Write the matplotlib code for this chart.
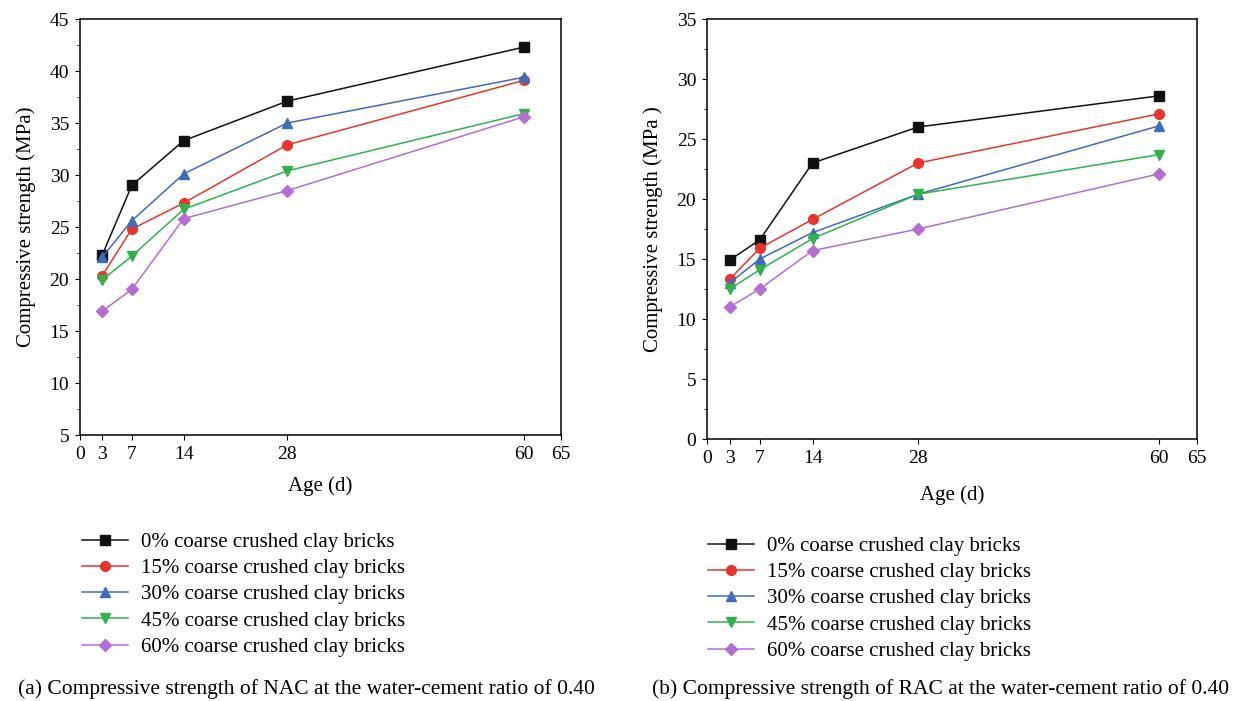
import matplotlib
matplotlib.use("Agg")
import matplotlib.pyplot as plt
from matplotlib.ticker import MultipleLocator

plt.rcParams['font.family'] = ['Liberation Serif', 'DejaVu Serif']

age = [3, 7, 14, 28, 60]
labels = ['0% coarse crushed clay bricks', '15% coarse crushed clay bricks',
          '30% coarse crushed clay bricks', '45% coarse crushed clay bricks',
          '60% coarse crushed clay bricks']

# NAC, w/c 0.40
nac_0 = [22.3, 29.0, 33.3, 37.1, 42.3]
nac_15 = [20.3, 24.8, 27.3, 32.9, 39.1]
nac_30 = [22.1, 25.6, 30.1, 35.0, 39.4]
nac_45 = [19.9, 22.2, 26.7, 30.4, 35.9]
nac_60 = [16.9, 19.0, 25.8, 28.5, 35.6]

# RAC, w/c 0.40
rac_0 = [14.9, 16.6, 23.0, 26.0, 28.6]
rac_15 = [13.3, 15.9, 18.3, 23.0, 27.1]
rac_30 = [13.0, 15.0, 17.2, 20.4, 26.1]
rac_45 = [12.5, 14.1, 16.7, 20.4, 23.7]
rac_60 = [11.0, 12.5, 15.7, 17.5, 22.1]

colors = ['#111111', '#e8352c', '#3f6bbd', '#2fb24b', '#b46ed3']
markers = ['s', 'o', '^', 'v', 'D']
msizes = [6.5, 7, 7, 7, 6]

W, H = 1254, 701
fig = plt.figure(figsize=(W / 100, H / 100), dpi=100)
ax1 = fig.add_axes([80 / W, 1 - 435 / H, 481 / W, 416 / H])
ax2 = fig.add_axes([707 / W, 1 - 439 / H, 490 / W, 420 / H])


def draw(ax, series, ylim, ylabel, xlab_pad):
    handles = []
    for s, c, m, ms, lab in zip(series, colors, markers, msizes, labels):
        h, = ax.plot(age, s, color=c, marker=m, markersize=ms, lw=1.1, label=lab)
        handles.append(h)
    ax.set_xlim(0, 65)
    ax.set_xticks([0, 3, 7, 14, 28, 60, 65])
    ax.set_ylim(*ylim)
    ax.yaxis.set_major_locator(MultipleLocator(5))
    ax.yaxis.set_minor_locator(MultipleLocator(2.5))
    ax.tick_params(which='both', direction='out', top=False, right=False, labelsize=14)
    ax.tick_params(which='major', length=3.8, pad=4)
    ax.tick_params(which='minor', length=2.5)
    ax.set_xlabel('Age (d)', fontsize=15, labelpad=xlab_pad)
    ax.set_ylabel(ylabel, fontsize=15, labelpad=10)
    for sp in ax.spines.values():
        sp.set_linewidth(1.1)
    return handles


h1 = draw(ax1, [nac_0, nac_15, nac_30, nac_45, nac_60], (5, 45),
          'Compressive strength (MPa)', 10)
h2 = draw(ax2, [rac_0, rac_15, rac_30, rac_45, rac_60], (0, 35),
          'Compressive strength (MPa )', 13)

leg_kw = dict(loc='upper left', bbox_transform=fig.transFigure, frameon=False, fontsize=15,
              handlelength=2.2, handletextpad=0.6, labelspacing=0.32, borderaxespad=0)
ax1.legend(handles=h1, bbox_to_anchor=(74 / W, 1 - 524 / H), **leg_kw)
ax2.legend(handles=h2, bbox_to_anchor=(700 / W, 1 - 528 / H), **leg_kw)

fig.text(306 / W, 1 - 689 / H, '(a) Compressive strength of NAC at the water-cement ratio of 0.40',
         ha='center', va='center', fontsize=15.5)
fig.text(941 / W, 1 - 689 / H, '(b) Compressive strength of RAC at the water-cement ratio of 0.40',
         ha='center', va='center', fontsize=15.5)

fig.savefig('out.png', dpi=100)
